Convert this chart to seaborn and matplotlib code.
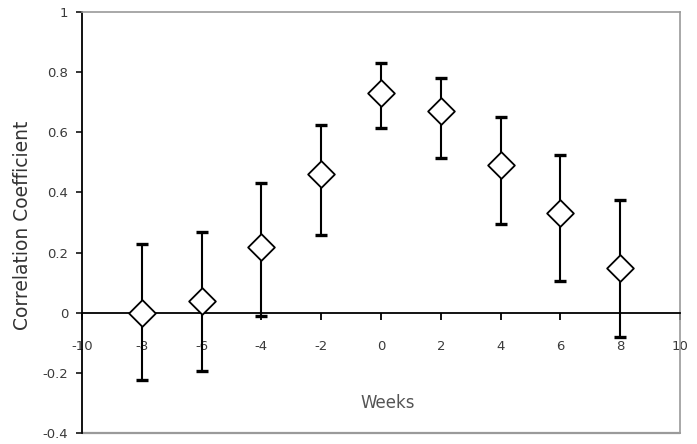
import matplotlib
matplotlib.use("Agg")
import matplotlib.pyplot as plt
import seaborn as sns
import pandas as pd
import numpy as np

# Correlation between the two series at each lag (weeks), with confidence limits
weeks = [-8, -6, -4, -2, 0, 2, 4, 6, 8]
corr = [0.00, 0.04, 0.22, 0.46, 0.73, 0.67, 0.49, 0.33, 0.15]
upper = [0.23, 0.27, 0.43, 0.625, 0.83, 0.78, 0.65, 0.525, 0.375]
lower = [-0.225, -0.195, -0.01, 0.26, 0.615, 0.515, 0.295, 0.105, -0.08]

x_ticks = [-10, -8, -6, -4, -2, 0, 2, 4, 6, 8, 10]
y_ticks = [-0.4, -0.2, 0, 0.2, 0.4, 0.6, 0.8, 1]

df = pd.DataFrame({"week": weeks, "r": corr, "hi": upper, "lo": lower})

sns.set_theme(style="white")
plt.rcParams["font.family"] = ["DejaVu Sans"]

fig = plt.figure(figsize=(6.97, 4.44), dpi=100)
ax = fig.add_axes([82 / 697, 11 / 444, 598 / 697, 421 / 444])

# asymmetric confidence bars
yerr = np.vstack([df["r"] - df["lo"], df["hi"] - df["r"]])
ax.errorbar(df["week"], df["r"], yerr=yerr, fmt="none", ecolor="black",
            elinewidth=1.5, capsize=4.3, capthick=2.4, zorder=3)

sns.scatterplot(data=df, x="week", y="r", marker="D", s=185,
                facecolor="white", edgecolor="black", linewidth=1.3,
                zorder=5, clip_on=False, ax=ax)

ax.set_xlim(-10, 10)
ax.set_ylim(-0.4, 1)
ax.set_xticks(x_ticks)
ax.set_yticks(y_ticks)
ax.set_xticklabels([f"{v:g}" for v in x_ticks])
ax.set_yticklabels([f"{v:g}" for v in y_ticks])

# category axis crosses at zero
ax.spines["bottom"].set_position(("data", 0))
ax.spines["bottom"].set_color("black")
ax.spines["bottom"].set_linewidth(1.3)
ax.spines["left"].set_color("black")
ax.spines["left"].set_linewidth(1.3)
for side in ("top", "right"):
    ax.spines[side].set_color("#9a9a9a")
    ax.spines[side].set_linewidth(1.2)
ax.axhline(-0.4, color="#9a9a9a", linewidth=1.6, clip_on=False, zorder=1)

ax.tick_params(axis="x", direction="out", length=5, width=1.3, color="black",
               pad=15, labelsize=9.5, labelcolor="#3a3a3a", bottom=True)
ax.tick_params(axis="y", direction="out", length=4, width=1.1, color="black",
               pad=6, labelsize=9.5, labelcolor="#3a3a3a", left=True)

ax.set_xlabel("")
ax.set_ylabel("Correlation Coefficient", fontsize=13.5, color="#333333")
ax.yaxis.set_label_coords(-0.083, 0.494)
ax.text(0.512, 0.071, "Weeks", transform=ax.transAxes, ha="center",
        va="center", fontsize=12, color="#555555")

fig.savefig("out.png", dpi=100, facecolor="white")
